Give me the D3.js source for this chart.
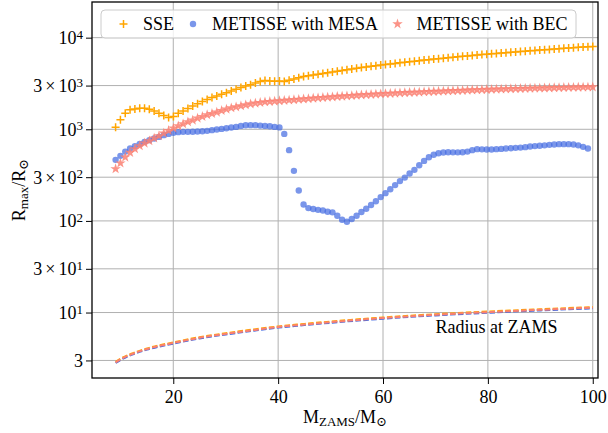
<!DOCTYPE html>
<html><head><meta charset="utf-8">
<script src="https://cdn.jsdelivr.net/npm/d3@7"></script>
<style>
body{margin:0;background:#fff}
svg{display:block}
svg text{font-family:"Liberation Serif","Tinos","Times New Roman","DejaVu Serif",serif !important;fill:#000}
</style>
</head><body>
<svg id="chart" width="608" height="433"></svg>
<script>
// ---- data ----
const masses = [9.00,9.92,10.84,11.76,12.68,13.60,14.52,15.43,16.35,17.27,18.19,19.11,20.03,20.95,21.87,22.79,23.71,24.63,25.55,26.46,
27.38,28.30,29.22,30.14,31.06,31.98,32.90,33.82,34.74,35.66,36.58,37.49,38.41,39.33,40.25,41.17,42.09,43.01,43.93,44.85,
45.77,46.69,47.61,48.53,49.44,50.36,51.28,52.20,53.12,54.04,54.96,55.88,56.80,57.72,58.64,59.56,60.47,61.39,62.31,63.23,
64.15,65.07,65.99,66.91,67.83,68.75,69.67,70.59,71.51,72.42,73.34,74.26,75.18,76.10,77.02,77.94,78.86,79.78,80.70,81.62,
82.54,83.45,84.37,85.29,86.21,87.13,88.05,88.97,89.89,90.81,91.73,92.65,93.57,94.48,95.40,96.32,97.24,98.16,99.08,100.00];

const sseRmax = [1055,1268,1500,1630,1668,1698,1698,1655,1585,1500,1410,1342,1375,1500,1585,1683,1800,1905,2005,2110,
2217,2313,2414,2512,2622,2736,2850,2974,3070,3205,3313,3397,3373,3350,3373,3330,3430,3530,3640,3758,
3837,3917,3990,4074,4150,4227,4305,4385,4467,4550,4634,4710,4786,4864,4943,5023,5093,5164,5236,5309,
5383,5458,5534,5610,5689,5754,5834,5902,5970,6039,6109,6180,6252,6324,6397,6471,6531,6607,6668,6730,
6792,6855,6918,6982,7047,7112,7178,7244,7311,7379,7447,7516,7586,7656,7727,7780,7852,7907,7962,8017];

const mesaRmax = [464,513,571,616,655,693,729,761,792,826,863,891,914,930,937,937,940,945,953,961,
978,993,1010,1028,1044,1062,1089,1105,1109,1109,1097,1089,1081,1062,1048,891,592,352,215,151,
138,135,132,130,126,124,114,103,98,105,114,125,136,149,164,182,201,222,246,272,
297,329,361,405,452,495,528,548,557,562,560,560,562,571,592,607,604,601,601,607,
611,616,622,627,631,638,648,655,660,668,676,681,688,688,688,681,668,643,616,null];

const becRmax = [370,427,496,557,611,659,705,747,800,847,906,968,1028,1089,1145,1204,1257,1321,1376,1437,
1484,1536,1599,1657,1711,1754,1799,1845,1891,1927,1955,1991,2005,2025,2042,2061,2080,2099,2118,2138,
2158,2178,2198,2218,2239,2254,2275,2291,2312,2328,2350,2366,2382,2399,2415,2432,2449,2460,2477,2489,
2506,2518,2529,2541,2559,2570,2582,2594,2606,2618,2630,2642,2655,2667,2679,2692,2704,2716,2723,2735,
2742,2754,2761,2773,2780,2786,2799,2805,2812,2818,2825,2838,2844,2851,2858,2864,2871,2877,2884,2891];

const zamsMass = [9,10,12,15,20,25,30,35,40,45,50,60,70,80,90,100];
const zamsSSE  = [2.90,3.15,3.55,4.06,4.72,5.38,5.94,6.50,7.05,7.51,7.97,8.83,9.59,10.25,10.86,11.47];
const zamsMESA = [2.82,3.05,3.45,3.94,4.58,5.22,5.76,6.30,6.85,7.29,7.73,8.57,9.31,9.95,10.54,11.13];
const zamsBEC  = [2.86,3.10,3.50,4.00,4.65,5.30,5.85,6.40,6.95,7.40,7.85,8.70,9.45,10.10,10.70,11.30];

const xTicks = [20,40,60,80,100];
const yTicks = [3,10,30,100,300,1000,3000,10000];
const yTickMant = ["","","3","","3","","3",""];
const yTickBase = ["3","10","10","10","10","10","10","10"];
const yTickExp  = ["","1","1","2","2","3","3","4"];

const seriesNames = ["SSE","METISSE with MESA","METISSE with BEC"];
const annotation = "Radius at ZAMS";
const annotationPos = [70, 6.0];

// ---- layout ----
const W = 608, H = 433;
const M = {left:92, right:10, top:2, bottom:55};
const iw = W - M.left - M.right, ih = H - M.top - M.bottom;
const C = {sse:"#FFA500", mesa:"#4169E1", bec:"#FA8072"};
const FONT = "Liberation Serif, Tinos, Times New Roman, DejaVu Serif, serif";

const svg = d3.select("#chart");
const g = svg.append("g").attr("transform",`translate(${M.left},${M.top})`);

const x = d3.scaleLinear().domain([4.5,101]).range([0,iw]);
const y = d3.scaleLog().domain([1.93,24500]).range([ih,0]);

// grid
g.append("g").selectAll("line").data(xTicks).join("line")
  .attr("x1",d=>x(d)).attr("x2",d=>x(d)).attr("y1",0).attr("y2",ih)
  .attr("stroke","#b0b0b0").attr("stroke-width",1);
g.append("g").selectAll("line").data(yTicks).join("line")
  .attr("y1",d=>y(d)).attr("y2",d=>y(d)).attr("x1",0).attr("x2",iw)
  .attr("stroke","#b0b0b0").attr("stroke-width",1);

// axes
const gx = g.append("g").attr("transform",`translate(0,${ih})`)
  .call(d3.axisBottom(x).tickValues(xTicks).tickSize(6).tickPadding(6).tickSizeOuter(0).tickFormat(d3.format("d")));
gx.attr("font-family",FONT).attr("font-size",18);
gx.select(".domain").remove();
gx.selectAll("text").attr("fill","#000");
gx.selectAll("line").attr("stroke","#000");

const gy = g.append("g")
  .call(d3.axisLeft(y).tickValues(yTicks).tickSize(6).tickPadding(3).tickSizeOuter(0).tickFormat(()=>""));
gy.attr("font-family",FONT).attr("font-size",18);
gy.select(".domain").remove();
gy.selectAll("line").attr("stroke","#000");
gy.selectAll(".tick").each(function(d,i){
  const t = d3.select(this).select("text");
  t.attr("dy",null).attr("y",6).attr("fill","#000");
  if (yTickMant[i]) {
    t.append("tspan").text(yTickMant[i]);
    t.append("tspan").attr("dx",3).text("\u00D7");
    t.append("tspan").attr("dx",3).text(yTickBase[i]);
  } else {
    t.append("tspan").text(yTickBase[i]);
  }
  if (yTickExp[i]) t.append("tspan").attr("dy",-5.5).attr("font-size",13).text(yTickExp[i]);
});

// clip
svg.append("defs").append("clipPath").attr("id","clip").append("rect").attr("width",iw).attr("height",ih);
const pg = g.append("g").attr("clip-path","url(#clip)");

// ZAMS dashed lines
const zLine = (arr) => d3.line().x((d,i)=>x(zamsMass[i])).y(d=>y(d)).curve(d3.curveMonotoneX)(arr);
[[zamsMESA,C.mesa],[zamsSSE,C.sse],[zamsBEC,C.bec]].forEach(([arr,col])=>{
  pg.append("path").attr("d",zLine(arr)).attr("fill","none").attr("stroke",col)
    .attr("stroke-width",2).attr("stroke-dasharray","5.5,2.4");
});

// scatter series
const plusPath = "M-4,0H4M0,-4V4";
const starPath = d3.symbol(d3.symbolStar, 34)();

const sseData = masses.map((m,i)=>[m,sseRmax[i]]).filter(d=>d[1]!=null);
pg.append("g").selectAll("path").data(sseData).join("path")
  .attr("transform",d=>`translate(${x(d[0])},${y(d[1])})`)
  .attr("d",plusPath).attr("stroke",C.sse).attr("stroke-width",1.5).attr("fill","none");

const mesaData = masses.map((m,i)=>[m,mesaRmax[i]]).filter(d=>d[1]!=null);
pg.append("g").selectAll("circle").data(mesaData).join("circle")
  .attr("cx",d=>x(d[0])).attr("cy",d=>y(d[1])).attr("r",3.2)
  .attr("fill",C.mesa).attr("fill-opacity",0.7);

const becData = masses.map((m,i)=>[m,becRmax[i]]).filter(d=>d[1]!=null);
pg.append("g").selectAll("path").data(becData).join("path")
  .attr("transform",d=>`translate(${x(d[0])},${y(d[1])})`)
  .attr("d",starPath).attr("fill",C.bec).attr("fill-opacity",0.85);

// annotation
g.append("text").attr("x",x(annotationPos[0])).attr("y",y(annotationPos[1]))
  .attr("font-family",FONT).attr("font-size",18).text(annotation);

// frame
g.append("rect").attr("width",iw).attr("height",ih).attr("fill","none")
  .attr("stroke","#000").attr("stroke-width",1.3);

// axis labels
const xl = svg.append("text").attr("x",M.left+iw/2).attr("y",423).attr("text-anchor","middle")
  .attr("font-family",FONT).attr("font-size",18);
xl.append("tspan").text("M");
xl.append("tspan").attr("font-size",13).attr("dy",2.5).text("ZAMS");
xl.append("tspan").attr("dy",-2.5).text("/M");
xl.append("tspan").attr("font-size",13).attr("dy",2.5).text("\u2299");

const yl = svg.append("text").attr("transform",`translate(25,${M.top+ih/2}) rotate(-90)`)
  .attr("text-anchor","middle").attr("font-family",FONT).attr("font-size",18);
yl.append("tspan").text("R");
yl.append("tspan").attr("font-size",13).attr("dy",2.5).text("max");
yl.append("tspan").attr("dy",-2.5).text("/R");
yl.append("tspan").attr("font-size",13).attr("dy",2.5).text("\u2299");

// legend
const lg = svg.append("g").attr("font-family",FONT).attr("font-size",18);
lg.append("rect").attr("x",101).attr("y",10).attr("width",475).attr("height",28).attr("rx",4)
  .attr("fill","#fff").attr("fill-opacity",0.8).attr("stroke","#cccccc").attr("stroke-width",1);
lg.append("path").attr("transform","translate(123.5,24)").attr("d",plusPath)
  .attr("stroke",C.sse).attr("stroke-width",1.5).attr("fill","none");
lg.append("text").attr("x",143).attr("y",29.5).text(seriesNames[0]);
lg.append("circle").attr("cx",193).attr("cy",24).attr("r",3.2).attr("fill",C.mesa).attr("fill-opacity",0.7);
lg.append("text").attr("x",212).attr("y",29.5).text(seriesNames[1]);
lg.append("path").attr("transform","translate(397.5,24)").attr("d",starPath).attr("fill",C.bec).attr("fill-opacity",0.85);
lg.append("text").attr("x",416.5).attr("y",29.5).text(seriesNames[2]);
</script>
</body></html>
